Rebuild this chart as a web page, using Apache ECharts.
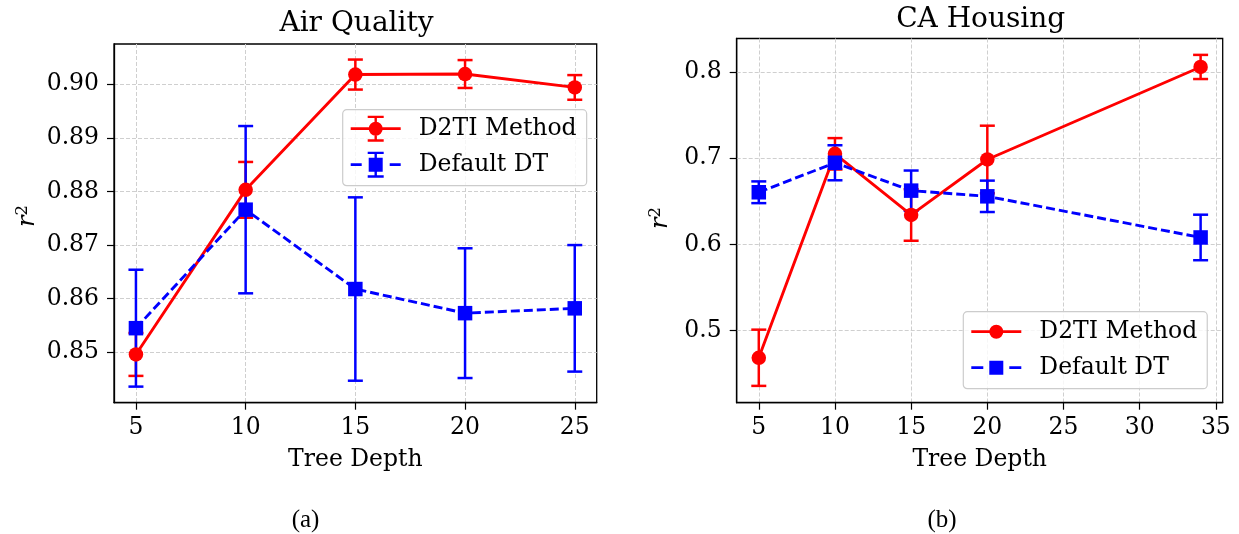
<!DOCTYPE html>
<html>
<head>
<meta charset="utf-8">
<script src="https://cdn.jsdelivr.net/npm/echarts@6/dist/echarts.min.js"></script>
<style>
  html, body { margin: 0; padding: 0; background: #fff; }
  #chart { width: 1239px; height: 534px; }
</style>
</head>
<body>
<div id="chart"></div>
<script>
(function () {
  // Air Quality panel
  const depthA = [5, 10, 15, 20, 25];
  const d2tiA = [0.8496, 0.8803, 0.9018, 0.9019, 0.8994];
  const d2tiErrA = [0.0040, 0.0052, 0.0028, 0.0026, 0.0023];
  const dtA = [0.8545, 0.8766, 0.8618, 0.8573, 0.8582];
  const dtErrA = [0.0109, 0.0156, 0.0171, 0.0121, 0.0118];

  // CA Housing panel
  const depthB = [5, 10, 15, 20, 34];
  const d2tiB = [0.4686, 0.7051, 0.6342, 0.6985, 0.8058];
  const d2tiErrB = [0.0326, 0.0182, 0.0299, 0.0392, 0.0140];
  const dtB = [0.6605, 0.6947, 0.6624, 0.6558, 0.6081];
  const dtErrB = [0.0126, 0.0203, 0.0233, 0.0182, 0.0264];

  const xTicksA = [5, 10, 15, 20, 25];
  const yTicksA = [0.85, 0.86, 0.87, 0.88, 0.89, 0.90];
  const xTicksB = [5, 10, 15, 20, 25, 30, 35];
  const yTicksB = [0.5, 0.6, 0.7, 0.8];

  const FONT = 'DejaVu Serif';
  const RED = '#ff0000';
  const BLUE = '#0000ff';

  const pairs = (xs, ys) => xs.map((x, i) => [x, ys[i]]);
  const errData = (xs, ys, es) => xs.map((x, i) => [x, ys[i] - es[i], ys[i] + es[i]]);

  function errRender(params, api) {
    const x = api.value(0);
    const top = api.coord([x, api.value(2)]);
    const bot = api.coord([x, api.value(1)]);
    const hw = 7.5;
    const style = { stroke: api.visual('color'), lineWidth: 2.5, fill: null };
    return {
      type: 'group',
      children: [
        { type: 'line', shape: { x1: top[0], y1: top[1], x2: bot[0], y2: bot[1] }, style },
        { type: 'line', shape: { x1: top[0] - hw, y1: top[1], x2: top[0] + hw, y2: top[1] }, style },
        { type: 'line', shape: { x1: bot[0] - hw, y1: bot[1], x2: bot[0] + hw, y2: bot[1] }, style }
      ]
    };
  }

  function xAxis(gridIndex, min, max, ticks) {
    return {
      type: 'value', gridIndex, min, max,
      name: 'Tree Depth', nameLocation: 'middle', nameGap: 45,
      nameTextStyle: { fontFamily: FONT, fontSize: 23.5, color: '#000' },
      axisLine: { show: true, onZero: false, lineStyle: { color: '#000', width: 1.3 } },
      axisTick: { show: true, length: 7, customValues: ticks, lineStyle: { color: '#000', width: 1.2 } },
      axisLabel: { customValues: ticks, margin: 13, fontFamily: FONT, fontSize: 23.5, color: '#000' },
      splitLine: { show: true, lineStyle: { color: '#cfcfcf', width: 1, type: [4, 2] } }
    };
  }

  function yAxis(gridIndex, min, max, ticks, digits) {
    return {
      type: 'value', gridIndex, min, max,
      axisLine: { show: true, onZero: false, lineStyle: { color: '#000', width: 1.3 } },
      axisTick: { show: true, length: 7, customValues: ticks, lineStyle: { color: '#000', width: 1.2 } },
      axisLabel: { customValues: ticks, margin: 15, fontFamily: FONT, fontSize: 23.5, color: '#000',
        formatter: v => v.toFixed(digits) },
      splitLine: { show: true, lineStyle: { color: '#cfcfcf', width: 1, type: [4, 2] } }
    };
  }

  function lineSeries(name, idx, xs, ys, color, symbol, dashed, z) {
    return {
      type: 'line', name, xAxisIndex: idx, yAxisIndex: idx,
      data: pairs(xs, ys), symbol, symbolSize: 14.5, z,
      itemStyle: { color },
      lineStyle: { color, width: 2.9, type: dashed ? [9, 4] : 'solid' }
    };
  }

  function errSeries(name, idx, xs, ys, es, color) {
    return {
      type: 'custom', name, xAxisIndex: idx, yAxisIndex: idx, z: 2,
      itemStyle: { color }, renderItem: errRender,
      encode: { x: 0, y: [1, 2] },
      data: errData(xs, ys, es)
    };
  }

  const legendText = { fontFamily: FONT, fontSize: 23.5, color: '#000', lineHeight: 24, padding: [0, 0, 0, 13] };
  const iconRedErr = 'path://M0 11.6H50V14.4H0Z M23.8 1H26.2V25H23.8Z M17 0H33V2.4H17Z M17 23.6H33V26H17Z M18 13A7 7 0 1 1 32 13A7 7 0 1 1 18 13Z';
  const iconBlueErr = 'path://M0 11.6H11V14.4H0Z M39 11.6H50V14.4H39Z M23.8 1H26.2V25H23.8Z M17 0H33V2.4H17Z M17 23.6H33V26H17Z M18 6H32V20H18Z';
  const iconRed = 'path://M0 5.6H50V8.4H0Z M18 7A7 7 0 1 1 32 7A7 7 0 1 1 18 7Z';
  const iconBlue = 'path://M0 5.6H12V8.4H0Z M18 0H32V14H18Z M38 5.6H50V8.4H38Z';

  const chart = echarts.init(document.getElementById('chart'), null, { renderer: 'canvas' });
  chart.setOption({
    animation: false,
    backgroundColor: '#fff',
    title: [
      { text: 'Air Quality', left: 351.5, top: 5, textAlign: 'center',
        textStyle: { fontFamily: FONT, fontSize: 28, fontWeight: 'normal', color: '#000' } },
      { text: 'CA Housing', left: 975.7, top: 1, textAlign: 'center',
        textStyle: { fontFamily: FONT, fontSize: 28, fontWeight: 'normal', color: '#000' } },
      { text: '(a)', left: 300.5, top: 503, textAlign: 'center',
        textStyle: { fontFamily: 'Liberation Serif', fontSize: 25, fontWeight: 'normal', color: '#000' } },
      { text: '(b)', left: 937, top: 503, textAlign: 'center',
        textStyle: { fontFamily: 'Liberation Serif', fontSize: 25, fontWeight: 'normal', color: '#000' } }
    ],
    grid: [
      { left: 114, top: 44, width: 482.7, height: 358.7, show: true, borderColor: '#000', borderWidth: 1.3 },
      { left: 736.7, top: 38.5, width: 486, height: 364.2, show: true, borderColor: '#000', borderWidth: 1.3 }
    ],
    xAxis: [xAxis(0, 4, 26, xTicksA), xAxis(1, 3.55, 35.45, xTicksB)],
    yAxis: [yAxis(0, 0.8406, 0.9075, yTicksA, 2), yAxis(1, 0.4165, 0.8388, yTicksB, 1)],
    legend: [
      {
        left: 342.7, top: 109.7, orient: 'vertical', z: 10, selectedMode: false,
        padding: [6, 10, 8, 8], itemGap: 10, itemWidth: 50, itemHeight: 26,
        backgroundColor: 'rgba(255,255,255,0.8)', borderColor: '#cccccc', borderWidth: 1.2, borderRadius: 4,
        textStyle: legendText,
        data: [{ name: 'D2TI Method', icon: iconRedErr }, { name: 'Default DT', icon: iconBlueErr }]
      },
      {
        left: 963.3, top: 311.7, orient: 'vertical', z: 10, selectedMode: false,
        padding: [8, 10, 9, 8], itemGap: 12, itemWidth: 50, itemHeight: 14,
        backgroundColor: 'rgba(255,255,255,0.8)', borderColor: '#cccccc', borderWidth: 1.2, borderRadius: 4,
        textStyle: legendText,
        data: [{ name: 'D2TI Method', icon: iconRed }, { name: 'Default DT', icon: iconBlue }]
      }
    ],
    graphic: [
      { type: 'text', x: 27, y: 216, rotation: Math.PI / 2,
        style: { text: '{r|r}{s|2}', align: 'center', verticalAlign: 'middle',
          rich: { r: { fontFamily: FONT, fontStyle: 'italic', fontSize: 24, lineHeight: 26, verticalAlign: 'bottom', fill: '#000' },
                  s: { fontFamily: FONT, fontSize: 16.5, lineHeight: 16, verticalAlign: 'top', fill: '#000' } } } },
      { type: 'text', x: 660, y: 218, rotation: Math.PI / 2,
        style: { text: '{r|r}{s|2}', align: 'center', verticalAlign: 'middle',
          rich: { r: { fontFamily: FONT, fontStyle: 'italic', fontSize: 24, lineHeight: 26, verticalAlign: 'bottom', fill: '#000' },
                  s: { fontFamily: FONT, fontSize: 16.5, lineHeight: 16, verticalAlign: 'top', fill: '#000' } } } }
    ],
    series: [
      errSeries('D2TI Method', 0, depthA, d2tiA, d2tiErrA, RED),
      errSeries('Default DT', 0, depthA, dtA, dtErrA, BLUE),
      lineSeries('D2TI Method', 0, depthA, d2tiA, RED, 'circle', false, 3),
      lineSeries('Default DT', 0, depthA, dtA, BLUE, 'rect', true, 4),
      errSeries('D2TI Method', 1, depthB, d2tiB, d2tiErrB, RED),
      errSeries('Default DT', 1, depthB, dtB, dtErrB, BLUE),
      lineSeries('D2TI Method', 1, depthB, d2tiB, RED, 'circle', false, 3),
      lineSeries('Default DT', 1, depthB, dtB, BLUE, 'rect', true, 4)
    ]
  });
  window.addEventListener('resize', () => chart.resize());
})();
</script>
</body>
</html>
